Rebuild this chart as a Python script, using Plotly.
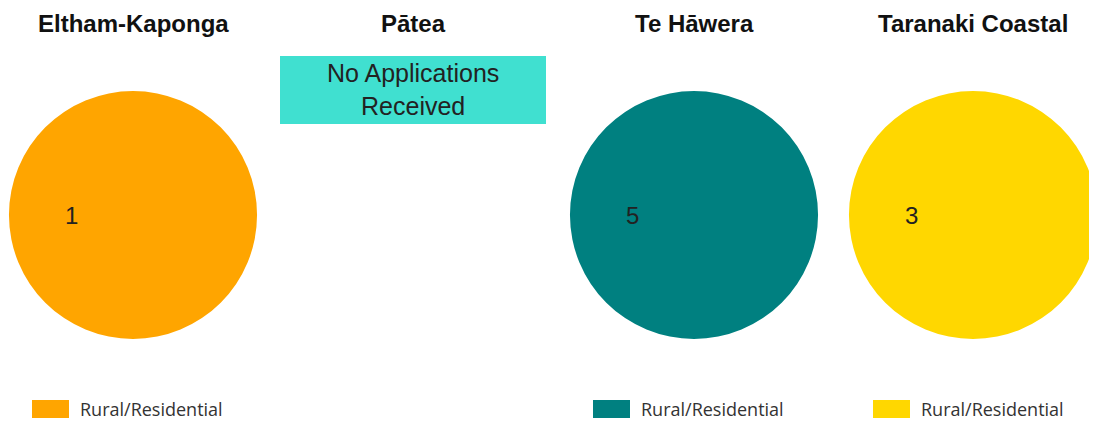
import plotly.graph_objects as go

# The page body has an 8px margin, so the figure starts at (8, 8) in the window.
OFF = 8
W, H = 1089, 413

regions = ["Eltham-Kaponga", "Pātea", "Te Hāwera", "Taranaki Coastal"]
categories = ["Rural/Residential"]
values = {
    "Eltham-Kaponga": [1],
    "Pātea": [],
    "Te Hāwera": [5],
    "Taranaki Coastal": [3],
}
colors = {
    "Eltham-Kaponga": "#FFA500",
    "Pātea": "#40E0D0",
    "Te Hāwera": "#008080",
    "Taranaki Coastal": "#FFD700",
}
no_data_text = "No Applications<br>Received"

# panel geometry in window pixels
centers_x = {"Eltham-Kaponga": 133, "Pātea": 413, "Te Hāwera": 694, "Taranaki Coastal": 973}
pie_cy = 215
pie_r = 124
legend_x = {"Eltham-Kaponga": 32, "Te Hāwera": 593, "Taranaki Coastal": 873}
legend_y = 409


def px(x):
    return (x - OFF) / W


def py(y):
    return 1 - (y - OFF) / H


fig = go.Figure()
for reg in regions:
    cx = centers_x[reg]
    fig.add_annotation(x=px(cx), y=py(24), xref="paper", yref="paper",
                       text=f"<b>{reg}</b>", showarrow=False,
                       font=dict(family="Liberation Sans, Arial", size=24, color="#111"),
                       xanchor="center", yanchor="middle")
    vals = values[reg]
    if not vals:
        fig.add_shape(type="rect", xref="paper", yref="paper",
                      x0=px(280), x1=px(546), y0=py(124), y1=py(56),
                      fillcolor=colors[reg], line=dict(width=0), layer="below")
        fig.add_annotation(x=px(413), y=py(90), xref="paper", yref="paper",
                           text=no_data_text, showarrow=False,
                           font=dict(family="Liberation Sans, Arial", size=25, color="#222"),
                           xanchor="center", yanchor="middle")
        continue
    x0 = max(px(cx - pie_r), 0)
    x1 = min(px(cx + pie_r), 1)
    fig.add_trace(go.Pie(labels=categories, values=vals,
                         marker=dict(colors=[colors[reg]], line=dict(width=0)),
                         textinfo="none", hoverinfo="label+value", sort=False,
                         domain=dict(x=[x0, x1], y=[py(pie_cy + pie_r), py(pie_cy - pie_r)]),
                         showlegend=False))
    fig.add_annotation(x=px(cx - 62), y=py(pie_cy), xref="paper", yref="paper",
                       text=str(vals[0]), showarrow=False,
                       font=dict(family="Liberation Sans, Arial", size=24, color="#222"),
                       xanchor="center", yanchor="middle")
    # legend swatch and label
    lx = legend_x[reg]
    fig.add_shape(type="rect", xref="paper", yref="paper",
                  x0=px(lx), x1=px(lx + 37), y0=py(418), y1=py(400),
                  fillcolor=colors[reg], line=dict(width=0))
    fig.add_annotation(x=px(lx + 46), y=py(legend_y), xref="paper", yref="paper",
                       text=categories[0], showarrow=False,
                       font=dict(family="Open Sans", size=18, color="#333"),
                       xanchor="left", yanchor="middle")

fig.update_layout(width=W, height=H, margin=dict(l=0, r=0, t=0, b=0),
                  paper_bgcolor="white", plot_bgcolor="white")
fig.write_html("out.html")
